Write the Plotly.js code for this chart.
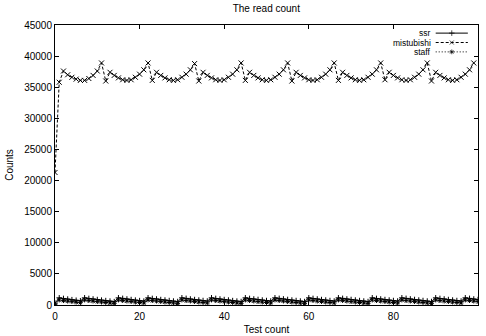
<!DOCTYPE html>
<html>
<head>
<meta charset="utf-8">
<script src="https://cdn.plot.ly/plotly-3.0.1.min.js"></script>
<style>html,body{margin:0;padding:0;background:#fff;}#chart{width:486px;height:336px;}</style>
</head>
<body>
<div id="chart"></div>
<script>
var testCount = [];
for (var i = 0; i <= 100; i++) testCount.push(i);

var ssr = [300,
  1150,1050,950,850,760,680,
  1150,1050,960,870,780,700,620,540,
  1150,1060,960,870,780,700,620,
  1150,1050,960,870,790,710,630,550,
  1150,1060,960,870,790,710,630,
  1150,1050,960,870,790,700,620,550,
  1150,1050,960,880,790,710,630,
  1150,1060,970,880,790,710,630,550,
  1150,1050,960,870,790,710,630,
  1150,1060,960,880,790,710,630,550,
  1150,1050,960,870,790,710,630,
  1150,1060,970,880,790,710,630,550,
  1150,1050,960,870,790,710,630,
  1150,1060,960,870];

var staff = [100,
  800,700,620,540,460,380,
  800,710,630,550,470,400,330,260,
  800,710,630,550,470,400,330,
  800,710,630,550,470,400,330,260,
  800,710,630,550,470,400,330,
  800,710,630,550,470,400,330,260,
  800,710,630,550,470,400,330,
  800,710,630,550,470,400,330,260,
  800,710,630,550,470,400,330,
  800,710,630,550,470,400,330,260,
  800,710,630,550,470,400,330,
  800,710,630,550,470,400,330,260,
  800,710,630,550,470,400,330,
  800,710,630,550];

var mistubishi = [21300,35800,37600,37000,36600,36300,36100,36100,36400,36900,37600,38900,
  36000,37400,36900,36500,36200,36100,36200,36600,37100,37800,38900,
  36100,37400,36900,36500,36200,36100,36200,36600,37100,37800,38800,
  36000,37400,36900,36500,36200,36100,36200,36600,37100,37800,38900,
  36100,37400,36900,36500,36200,36100,36200,36600,37100,37800,38900,
  36000,37400,36900,36500,36200,36100,36200,36600,37100,37800,38900,
  36100,37400,36900,36500,36200,36100,36200,36600,37100,37800,38900,
  36200,37400,36900,36500,36200,36100,36200,36600,37100,37800,38900,
  36000,37400,36900,36500,36200,36100,36200,36600,37100,37800,38900];

var seriesNames = ['ssr', 'mistubishi', 'staff'];
var xTicks = [0, 20, 40, 60, 80, 100];
var yTicks = [0, 5000, 10000, 15000, 20000, 25000, 30000, 35000, 40000, 45000];

var FONT = 'Liberation Sans, Arial, sans-serif';
var styles = [
  {dash: 'solid', symbol: 'cross-thin-open', size: 4},
  {dash: '3px,2px', symbol: 'x-thin-open', size: 5},
  {dash: '1px,2px', symbol: 'asterisk-open', size: 4}
];
var ys = [ssr, mistubishi, staff];

var traces = [];
for (var k = 0; k < 3; k++) {
  traces.push({
    x: testCount.slice(0, ys[k].length), y: ys[k], type: 'scatter', mode: 'lines+markers',
    name: seriesNames[k], showlegend: false, hoverinfo: 'skip',
    line: {color: '#000', width: 1, dash: styles[k].dash},
    marker: {symbol: styles[k].symbol, size: styles[k].size, color: '#000', line: {color: '#000', width: 1}}
  });
}

// legend samples on a hidden overlay axis spanning the plot area
var legRows = [0.971, 0.9375, 0.904];
var annotations = [];
for (var k = 0; k < 3; k++) {
  traces.push({
    x: [0.900, 0.938, 0.976], y: [legRows[k], legRows[k], legRows[k]],
    xaxis: 'x2', yaxis: 'y2', type: 'scatter', mode: 'lines+markers', showlegend: false, hoverinfo: 'skip',
    line: {color: '#000', width: 1, dash: styles[k].dash},
    marker: {symbol: styles[k].symbol, size: [0, 4, 0], color: '#000', line: {color: '#000', width: 1}}
  });
  annotations.push({
    xref: 'paper', yref: 'paper', x: 0.891, y: legRows[k], xanchor: 'right', yanchor: 'middle',
    text: seriesNames[k], showarrow: false, font: {family: FONT, size: 8.5, color: '#000'},
    borderpad: 0
  });
}

var layout = {
  width: 486, height: 336,
  margin: {l: 55, r: 8, t: 25, b: 31, pad: 0},
  paper_bgcolor: '#fff', plot_bgcolor: '#fff',
  font: {family: FONT, size: 10, color: '#000'},
  title: {text: 'The read count', font: {family: FONT, size: 10, color: '#000'}, x: 0.548, xanchor: 'center', y: 0.975, yanchor: 'middle'},
  showlegend: false,
  xaxis: {
    range: [0, 100], tickvals: xTicks, ticktext: xTicks.map(String),
    ticks: 'inside', ticklen: 4, tickcolor: '#000', tickwidth: 1,
    showline: true, linecolor: '#000', linewidth: 1, mirror: 'ticks',
    showgrid: false, zeroline: false, ticklabelstandoff: 2,
    tickfont: {family: FONT, size: 10, color: '#000'},
    title: {text: 'Test count', font: {family: FONT, size: 10, color: '#000'}, standoff: 4}
  },
  yaxis: {
    range: [0, 45000], tickvals: yTicks, ticktext: yTicks.map(String),
    ticks: 'inside', ticklen: 4, tickcolor: '#000', tickwidth: 1,
    showline: true, linecolor: '#000', linewidth: 1, mirror: 'ticks',
    showgrid: false, zeroline: false,
    tickfont: {family: FONT, size: 10, color: '#000'},
    title: {text: 'Counts', font: {family: FONT, size: 10, color: '#000'}, standoff: 8}
  },
  xaxis2: {overlaying: 'x', range: [0, 1], visible: false, fixedrange: true},
  yaxis2: {overlaying: 'y', range: [0, 1], visible: false, fixedrange: true},
  annotations: annotations
};

Plotly.newPlot('chart', traces, layout, {staticPlot: true, displayModeBar: false});
</script>
</body>
</html>
